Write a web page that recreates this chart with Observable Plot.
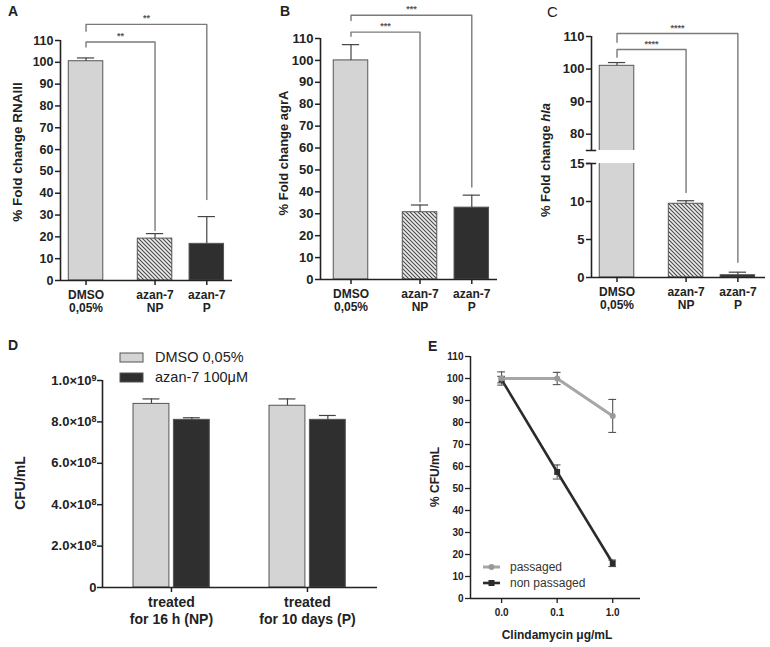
<!DOCTYPE html>
<html><head><meta charset="utf-8">
<script src="https://cdn.jsdelivr.net/npm/d3@7"></script>
<script src="https://cdn.jsdelivr.net/npm/@observablehq/plot@0.6"></script>
<style>
body{margin:0;background:#fff}
#fig{position:relative;width:770px;height:647px;overflow:hidden;background:#fff}
#fig svg{position:absolute;overflow:visible}
</style></head><body><div id="fig"></div>
<script>
// ================= DATA =================
// Panels A-C (qPCR)
const groupsABC = ["DMSO", "NP", "P"];
const groupTickLabels = ["DMSO\n0,05%", "azan-7\nNP", "azan-7\nP"];
const bracketTargets = ["NP", "P"];

const rnaiiiMean = [100.5, 19.2, 16.8];
const rnaiiiErr = [1.5, 2.3, 12.5];
const rnaiiiBracketLevel = [109.3, 117.4];
const rnaiiiBracketStub = [107, 114.2];
const rnaiiiBracketEnd = [22.9, 37.1];
const rnaiiiStars = ["**", "**"];

const agrAMean = [100, 30.7, 32.8];
const agrAErr = [7.2, 3.3, 5.7];
const agrABracketLevel = [112.9, 120.6];
const agrABracketStub = [111, 118.2];
const agrABracketEnd = [35.5, 42.2];
const agrAStars = ["***", "***"];

const hlaMean = [101, 9.7, 0.3];
const hlaErr = [1.0, 0.4, 0.4];
const hlaBracketLevel = [106, 110.9];
const hlaBracketStub = [103.6, 108.2];
const hlaBracketEnd = [11.2, 2.0];
const hlaStars = ["****", "****"];
const hlaAxisBreak = [15, 75];
const hlaTicks = [0, 5, 10, 15, 80, 90, 100, 110];

// Panel D (CFU/mL)
const cfuGroups = ["NP", "P"];
const cfuTickLabels = ["treated\nfor 16 h (NP)", "treated\nfor 10 days (P)"];
const cfuTreatments = ["DMSO 0,05%", "azan-7 100\u03bcM"];
const cfuDMSO = [8.87e8, 8.78e8];
const cfuDMSOErr = [0.24e8, 0.33e8];
const cfuAzan = [8.10e8, 8.10e8];
const cfuAzanErr = [0.10e8, 0.21e8];
const cfuTicks = [0, 2e8, 4e8, 6e8, 8e8, 1e9];

// Panel E (clindamycin)
const clindaDoses = ["0.0", "0.1", "1.0"];
const seriesNamesE = ["passaged", "non passaged"];
const passagedMean = [100, 100, 83];
const passagedErr = [3, 2.8, 7.5];
const nonPassagedMean = [99.5, 57.5, 16];
const nonPassagedErr = [1.5, 3.2, 1.5];

// ================= LAYOUT / STYLE =================
const FONT = '"Liberation Sans", Arial, Helvetica, sans-serif';
const INK = "#222";
const slot = {DMSO: 0, NP: 4, P: 7};        // x layout units for A-C
const lightFill = "#d4d4d4", darkFill = "#2f2f2f", barStroke = "#555";
const fig = document.getElementById("fig");

function baseStyle(size) {
  return {fontFamily: FONT, fontSize: size + "px", fontWeight: "bold", color: INK, background: "transparent", overflow: "visible"};
}
function place(svg, left, top) {
  svg.style.left = left + "px"; svg.style.top = top + "px";
  fig.appendChild(svg); return svg;
}
function addText(svg, x, y, str, o = {}) {
  const t = d3.select(svg).append("text")
    .attr("transform", `translate(${x},${y})` + (o.rotate ? ` rotate(${o.rotate})` : ""))
    .attr("text-anchor", o.anchor || "start")
    .attr("font-family", FONT)
    .attr("font-size", o.size || 13)
    .attr("font-weight", o.weight || "bold")
    .attr("fill", o.fill || INK);
  if (o.middle) t.attr("dy", "0.35em");
  if (Array.isArray(str)) {
    str.forEach(([s, italic]) => t.append("tspan").attr("font-style", italic ? "italic" : "normal").text(s));
  } else t.text(str);
  return t;
}
function addHatch(svg, id) {
  d3.select(svg).insert("defs", ":first-child").html(
    `<pattern id="${id}" patternUnits="userSpaceOnUse" width="4" height="4">` +
    `<rect width="4" height="4" fill="#ececec"/>` +
    `<path d="M-1,-1L5,5M-1,3L1,5M3,-1L5,1" stroke="#4a4a4a" stroke-width="1.1"/></pattern>`);
}

function barPanel(p) {
  const hatchId = "hatch-" + p.name;
  const rows = groupsABC.map((g, i) => ({
    x: slot[g], m: p.mean[i], e: p.err[i],
    fill: i === 0 ? lightFill : i === 1 ? `url(#${hatchId})` : darkFill
  }));
  const brk = p.levels.flatMap((lv, i) => {
    const x0 = slot.DMSO, x1 = slot[bracketTargets[i]];
    return [{k: i, x: x0, y: p.stubs[i]}, {k: i, x: x0, y: lv}, {k: i, x: x1, y: lv}, {k: i, x: x1, y: p.ends[i]}];
  });
  const starRows = p.levels.map((lv, i) => ({x: (slot.DMSO + slot[bracketTargets[i]]) / 2, y: lv, s: p.stars[i]}));
  const xmin = p.xDomain[0];
  const marks = [
    Plot.rect(rows, {x1: d => d.x - 1, x2: d => d.x + 1, y1: 0, y2: "m", fill: "fill", stroke: barStroke, strokeWidth: 1}),
    ...(p.extraUnder || []),
    Plot.ruleX(rows, {x: "x", y1: "m", y2: d => d.m + d.e, stroke: "#444", strokeWidth: 1.2}),
    Plot.ruleY(rows, {y: d => d.m + d.e, x1: d => d.x - 0.5, x2: d => d.x + 0.5, stroke: "#444", strokeWidth: 1.2}),
    Plot.line(brk, {x: "x", y: "y", z: "k", stroke: "#7a7a7a", strokeWidth: 1.4}),
    Plot.text(starRows, {x: "x", y: "y", text: "s", dy: -3, lineAnchor: "bottom", fontSize: 9, fill: "#555"}),
    Plot.ruleY([0], {stroke: INK, strokeWidth: 1.6}),
    ...(p.yLine || [Plot.ruleX([xmin], {stroke: INK, strokeWidth: 1.6})]),
    Plot.axisY({ticks: p.yTicks, tickSize: 5, tickPadding: 2, strokeWidth: 1.5, label: null, fontSize: p.yFont || 12.5}),
    Plot.axisX({ticks: groupsABC.map(g => slot[g]), tickFormat: (v) => groupTickLabels[groupsABC.findIndex(g => slot[g] === v)],
      tickSize: 5, tickPadding: 4, strokeWidth: 1.5, label: null, fontSize: 12, lineHeight: 1.1}),
    ...(p.extraOver || [])
  ];
  const svg = Plot.plot({
    width: p.width, height: p.height,
    marginLeft: p.ml, marginRight: p.mr, marginTop: p.mt, marginBottom: p.mb,
    x: {domain: p.xDomain, range: [p.ml, p.width - p.mr]},
    y: p.y,
    color: {type: "identity"},
    style: baseStyle(12),
    marks
  });
  addHatch(svg, hatchId);
  return svg;
}

// ---------- Panel A ----------
const svgA = place(barPanel({
  name: "A", width: 250, height: 320, ml: 60, mr: 18, mt: 40, mb: 40,
  xDomain: [-1.48, 8.49],
  y: {domain: [0, 110], range: [280, 40]},
  yTicks: d3.range(0, 111, 10),
  mean: rnaiiiMean, err: rnaiiiErr, levels: rnaiiiBracketLevel, stubs: rnaiiiBracketStub, ends: rnaiiiBracketEnd, stars: rnaiiiStars
}), 0, 0);
addText(svgA, 8, 16, "A", {size: 14});
addText(svgA, 17, 152, "% Fold change RNAIII", {rotate: -90, anchor: "middle", middle: true, size: 13.5});

// ---------- Panel B ----------
const svgB = place(barPanel({
  name: "B", width: 260, height: 320, ml: 70, mr: 13, mt: 38, mb: 41,
  xDomain: [-1.768, 8.49],
  y: {domain: [0, 110], range: [279, 38]},
  yTicks: d3.range(0, 111, 10), yFont: 13,
  mean: agrAMean, err: agrAErr, levels: agrABracketLevel, stubs: agrABracketStub, ends: agrABracketEnd, stars: agrAStars
}), 250, 0);
addText(svgB, 30, 16, "B", {size: 14});
addText(svgB, 33, 153, "% Fold change agrA", {rotate: -90, anchor: "middle", middle: true, size: 13});

// ---------- Panel C (broken axis) ----------
const cXmin = -1.478;
const svgC = place(barPanel({
  name: "C", width: 265, height: 320, ml: 86, mr: 5, mt: 36, mb: 43,
  xDomain: [cXmin, 8.6],
  y: {type: "linear", domain: [0, hlaAxisBreak[0], hlaAxisBreak[1], 110], range: [277, 163, 150, 36]},
  yTicks: hlaTicks, yFont: 13,
  mean: hlaMean, err: hlaErr, levels: hlaBracketLevel, stubs: hlaBracketStub, ends: hlaBracketEnd, stars: hlaStars,
  extraUnder: [Plot.rect([hlaAxisBreak], {x1: slot.DMSO - 1.15, x2: slot.DMSO + 1.15, y1: d => d[0], y2: d => d[1], fill: "white"})],
  yLine: [Plot.ruleX([[0, hlaAxisBreak[0]], [hlaAxisBreak[1], 110]], {x: cXmin, y1: d => d[0], y2: d => d[1], stroke: INK, strokeWidth: 1.6})],
  extraOver: [Plot.ruleY(hlaAxisBreak, {x1: cXmin - 0.3, x2: cXmin + 0.3, stroke: INK, strokeWidth: 1.5})]
}), 505, 0);
addText(svgC, 42, 17, "C", {size: 15, weight: "normal"});
addText(svgC, 40, 160, [["% Fold change ", false], ["hla", true]], {rotate: -90, anchor: "middle", middle: true, size: 13});

// ---------- Panel D ----------
const dRows = cfuGroups.flatMap((g, i) => [
  {g: i, t: 0, m: cfuDMSO[i], e: cfuDMSOErr[i]},
  {g: i, t: 1, m: cfuAzan[i], e: cfuAzanErr[i]}
]);
const dBarLeft = d => d.g + (d.t === 0 ? -0.279 : 0.018);
const dBarRight = d => d.g + (d.t === 0 ? -0.015 : 0.282);
const dMid = d => (dBarLeft(d) + dBarRight(d)) / 2;
const sciFormat = v => {
  if (v === 0) return "0";
  const ex = Math.floor(Math.log10(v) + 1e-9);
  return (v / 10 ** ex).toFixed(1) + "\u00d710^" + ex;
};
const svgD = place(Plot.plot({
  width: 420, height: 317, marginLeft: 102, marginRight: 43, marginTop: 50, marginBottom: 60,
  x: {domain: [-0.507, 1.515], range: [102, 377]},
  y: {domain: [0, 1e9], range: [257, 50]},
  color: {type: "identity"},
  style: baseStyle(13),
  marks: [
    Plot.rect(dRows, {x1: dBarLeft, x2: dBarRight, y1: 0, y2: "m", fill: d => d.t === 0 ? lightFill : darkFill, stroke: barStroke, strokeWidth: 1}),
    Plot.ruleX(dRows, {x: dMid, y1: "m", y2: d => d.m + d.e, stroke: "#444", strokeWidth: 1.2}),
    Plot.ruleY(dRows, {y: d => d.m + d.e, x1: d => dMid(d) - 0.062, x2: d => dMid(d) + 0.062, stroke: "#444", strokeWidth: 1.2}),
    Plot.ruleY([0], {stroke: INK, strokeWidth: 1.6}),
    Plot.ruleX([-0.507], {stroke: INK, strokeWidth: 1.6}),
    Plot.axisY({ticks: cfuTicks, tickFormat: sciFormat, tickSize: 5, tickPadding: 1, strokeWidth: 1.5, label: null, fontSize: 13}),
    Plot.axisX({ticks: cfuGroups.map((g, i) => i), tickFormat: i => cfuTickLabels[i], tickSize: 5, tickPadding: 3, strokeWidth: 1.5, label: null, fontSize: 14, lineHeight: 1.2})
  ]
}), 0, 330);
// turn "a×10^b" tick labels into real superscripts
d3.select(svgD).selectAll("text").each(function () {
  const s = this.textContent;
  const m = s.match(/^(.*\u00d710)\^(\d+)$/);
  if (!m) return;
  const t = d3.select(this);
  t.text(null);
  t.append("tspan").text(m[1].replace("\u00d7", "\u2009\u00d7\u2009").replace(/\u2009/g, ""));
  t.append("tspan").attr("dy", "-0.45em").attr("font-size", "9px").text(m[2]);
});
addText(svgD, 8, 20, "D", {size: 14});
addText(svgD, 20, 153, "CFU/mL", {rotate: -90, anchor: "middle", middle: true, size: 14});
// legend D
const legD = d3.select(svgD).append("g");
cfuTreatments.forEach((name, i) => {
  legD.append("rect").attr("x", 120).attr("y", 23 + i * 20).attr("width", 23).attr("height", 9)
    .attr("fill", i === 0 ? lightFill : darkFill).attr("stroke", barStroke).attr("stroke-width", 1);
  addText(svgD, 155, 32 + i * 20, name, {size: 14.5, weight: "normal"});
});

// ---------- Panel E ----------
const passRows = clindaDoses.map((d, i) => ({i, m: passagedMean[i], e: passagedErr[i]}));
const nonRows = clindaDoses.map((d, i) => ({i, m: nonPassagedMean[i], e: nonPassagedErr[i]}));
const passColor = "#a6a6a6", nonColor = "#2b2b2b";
const errMarks = rows => [
  Plot.ruleX(rows, {x: "i", y1: d => d.m - d.e, y2: d => d.m + d.e, stroke: "#444", strokeWidth: 1}),
  Plot.ruleY(rows, {y: d => d.m - d.e, x1: d => d.i - 0.07, x2: d => d.i + 0.07, stroke: "#444", strokeWidth: 1}),
  Plot.ruleY(rows, {y: d => d.m + d.e, x1: d => d.i - 0.07, x2: d => d.i + 0.07, stroke: "#444", strokeWidth: 1})
];
const svgE = place(Plot.plot({
  width: 350, height: 317, marginLeft: 50, marginRight: 130, marginTop: 26, marginBottom: 49,
  x: {domain: [-0.56, 2.5], range: [50, 220]},
  y: {domain: [0, 110], range: [268, 26]},
  style: baseStyle(10),
  marks: [
    Plot.line(nonRows, {x: "i", y: "m", stroke: nonColor, strokeWidth: 2.6}),
    ...errMarks(nonRows),
    Plot.dot(nonRows, {x: "i", y: "m", symbol: "square", r: 3.3, fill: nonColor}),
    Plot.line(passRows, {x: "i", y: "m", stroke: passColor, strokeWidth: 3}),
    ...errMarks(passRows),
    Plot.dot(passRows, {x: "i", y: "m", r: 3, fill: "#999"}),
    Plot.ruleY([0], {stroke: INK, strokeWidth: 1.5}),
    Plot.ruleX([-0.56], {stroke: INK, strokeWidth: 1.5}),
    Plot.axisY({ticks: d3.range(0, 111, 10), tickSize: 5, tickPadding: 2, strokeWidth: 1.3, label: null, fontSize: 10}),
    Plot.axisX({ticks: [0, 1, 2], tickFormat: i => clindaDoses[i], tickSize: 5, tickPadding: 5, strokeWidth: 1.3, label: null, fontSize: 10})
  ]
}), 420, 330);
addText(svgE, 8, 21, "E", {size: 14});
addText(svgE, 15, 147, "% CFU/mL", {rotate: -90, anchor: "middle", middle: true, size: 12});
addText(svgE, 137, 309, "Clindamycin \u03bcg/mL", {anchor: "middle", size: 12});
// legend E
const legE = d3.select(svgE).append("g");
seriesNamesE.forEach((name, i) => {
  const y = 237 + i * 16, col = i === 0 ? passColor : nonColor;
  legE.append("line").attr("x1", 63).attr("x2", 80).attr("y1", y).attr("y2", y).attr("stroke", col).attr("stroke-width", i === 0 ? 3 : 2.6);
  if (i === 0) legE.append("circle").attr("cx", 71.5).attr("cy", y).attr("r", 3).attr("fill", "#999");
  else legE.append("rect").attr("x", 68.5).attr("y", y - 3).attr("width", 6).attr("height", 6).attr("fill", nonColor);
  addText(svgE, 90, y + 4, name, {size: 12, weight: "normal", fill: "#333"});
});
</script></body></html>
